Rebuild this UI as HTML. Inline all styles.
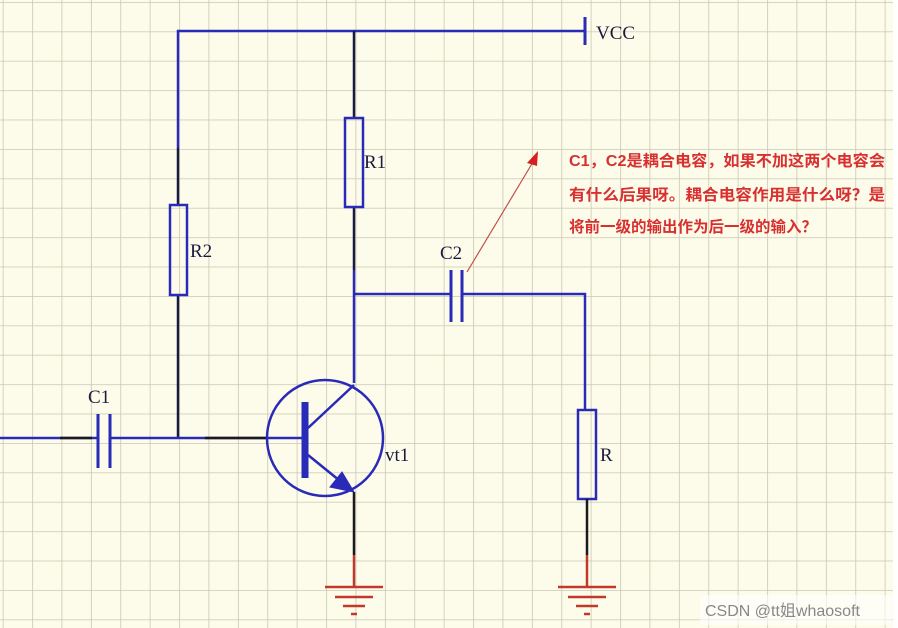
<!DOCTYPE html>
<html><head><meta charset="utf-8"><style>
html,body{margin:0;padding:0;background:#fff;}
svg{display:block;}
</style></head><body>
<svg width="898" height="628" xmlns="http://www.w3.org/2000/svg">
<defs>
<pattern id="g" x="2.7" y="2" width="29.4" height="29.4" patternUnits="userSpaceOnUse">
<rect width="29.4" height="29.4" fill="#fdfcea"/>
<path d="M0 0 H29.4 M0 0 V29.4" stroke="#c9c7b4" stroke-width="1.6" fill="none"/>
</pattern>
</defs>
<rect width="893" height="628" fill="url(#g)"/>
<g fill="none" stroke-width="2.5">
<path d="M178 148 V31 H585" stroke="#2a2ab8"/>
<path d="M585 17 V45" stroke="#2a2ab8" stroke-width="3"/>
<path d="M178 148 V205 M178 295 V438" stroke="#1a1a40"/>
<rect x="170" y="205" width="17" height="90" stroke="#2a2ab8"/>
<path d="M354 31 V118 M354 207 V270" stroke="#1a1a40"/>
<rect x="345" y="118" width="18" height="89" stroke="#2a2ab8"/>
<path d="M354 270 V383" stroke="#2a2ab8"/>
<path d="M354 294 H451 M462 294 H585 V410" stroke="#2a2ab8"/>
<path d="M451 270 V322 M462 270 V322" stroke="#2a2ab8" stroke-width="3"/>
<rect x="578" y="410" width="18" height="89" stroke="#2a2ab8"/>
<path d="M587 499 V555 M354 492 V555" stroke="#1a1a1a"/>
<path d="M0 438 H98 M110 438 H268" stroke="#2a2ab8"/>
<path d="M60 438 H92 M205 438 H268" stroke="#1a1a1a"/>
<path d="M98 414 V468 M110 414 V468" stroke="#2a2ab8" stroke-width="3"/>
<circle cx="325" cy="438" r="58" stroke="#2a2ab8"/>
<path d="M268 438 H305" stroke="#2a2ab8"/>
<path d="M305 402 V478" stroke="#2a2ab8" stroke-width="7"/>
<path d="M308 428 L354 385 M308 455 L345 485" stroke="#2a2ab8"/>
<polygon points="354,492 330,487 342,472" fill="#2a2ab8" stroke="#2a2ab8" stroke-width="1"/>
<g stroke="#c0392b">
<path d="M354 555 V587 M325 587 H383 M335 597 H373 M343 606 H365 M351 614 H357"/>
<path d="M587 555 V587 M558 587 H616 M568 597 H606 M576 606 H598 M584 614 H590"/>
</g>
<path d="M467 272 L533 162" stroke="#c0504d" stroke-width="1.2"/>
<polygon points="538,151 527,163 537,166" fill="#d42020"/>
</g>
<g font-family="Liberation Serif, serif" font-size="19" fill="#1a1a40">
<text x="596" y="39">VCC</text>
<text x="364" y="168">R1</text>
<text x="190" y="257">R2</text>
<text x="440" y="259">C2</text>
<text x="88" y="403">C1</text>
<text x="385" y="461">vt1</text>
<text x="600" y="461">R</text>
</g>
<g font-family="Liberation Sans, 'Noto Sans CJK SC', sans-serif" font-size="15.5" fill="#d83030" font-weight="bold">
<text x="569" y="166" textLength="316" lengthAdjust="spacingAndGlyphs">C1，C2是耦合电容，如果不加这两个电容会</text>
<text x="569" y="200" textLength="316" lengthAdjust="spacingAndGlyphs">有什么后果呀。耦合电容作用是什么呀？是</text>
<text x="569" y="232">将前一级的输出作为后一级的输入？</text>
</g>
<rect x="700" y="595" width="192" height="30" fill="#fff" opacity="0.6"/>
<text x="705" y="616" font-family="Liberation Sans, 'Noto Sans CJK SC', sans-serif" font-size="16" fill="#888">CSDN @tt姐whaosoft</text>
</svg>
</body></html>
